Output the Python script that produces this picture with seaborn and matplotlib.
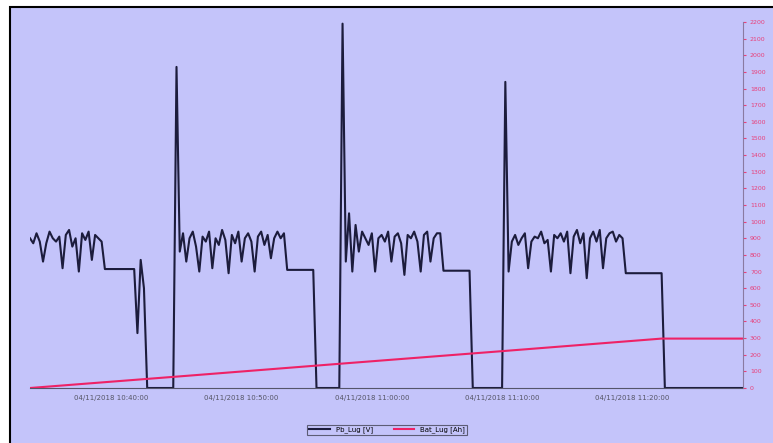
import numpy as np
import pandas as pd
import matplotlib
matplotlib.use("Agg")
import matplotlib.pyplot as plt
import matplotlib.dates as mdates
from matplotlib.patches import Rectangle
import seaborn as sns

# ------------------------------------------------------------
# data
# ------------------------------------------------------------
start_time = "2018-11-04 10:33:45"
sample_step = "15s"

cycle1_noise = [900, 870, 930, 880, 760, 870, 940, 900, 880, 910, 720, 920,
                950, 850, 900, 700, 930, 890, 940, 770, 920, 900, 880]
cycle1_rest = [715, 715, 715, 715, 715, 715, 715, 715, 715, 715]
cycle1_dip = [330, 770, 600]
off1 = [0, 0, 0, 0, 0, 0, 0, 0, 0]
spike1 = [1930]
cycle2_noise = [820, 930, 760, 900, 940, 850, 700, 910, 880, 940, 720, 900,
                860, 950, 890, 690, 920, 870, 940, 760, 900, 930, 880, 700,
                910, 940, 860, 920, 780, 900, 940, 900, 930]
cycle2_rest = [710, 710, 710, 710, 710, 710, 710, 710, 710]
off2 = [0, 0, 0, 0, 0, 0, 0, 0]
spike2 = [2190]
cycle3_noise = [760, 1050, 700, 980, 820, 940, 900, 860, 930, 700, 900, 920,
                880, 940, 760, 910, 930, 870, 680, 920, 900, 940, 880, 700,
                920, 940, 760, 900, 930, 930]
cycle3_rest = [705, 705, 705, 705, 705, 705, 705, 705, 705]
off3 = [0, 0, 0, 0, 0, 0, 0, 0, 0, 0]
spike3 = [1840]
cycle4_noise = [700, 880, 920, 860, 900, 930, 720, 880, 910, 900, 940, 870,
                890, 700, 920, 900, 930, 880, 940, 690, 910, 950, 870, 930,
                660, 900, 940, 880, 950, 720, 900, 930, 940, 880, 920, 900]
cycle4_rest = [690, 690, 690, 690, 690, 690, 690, 690, 690, 690, 690, 690]
off4 = [0, 0, 0, 0, 0, 0, 0, 0, 0, 0, 0, 0, 0, 0, 0, 0, 0, 0, 0, 0, 0, 0, 0, 0, 0]

pb_values = (cycle1_noise + cycle1_rest + cycle1_dip + off1 + spike1 +
             cycle2_noise + cycle2_rest + off2 + spike2 +
             cycle3_noise + cycle3_rest + off3 + spike3 +
             cycle4_noise + cycle4_rest + off4)

bat_times = ["2018-11-04 10:33:45", "2018-11-04 10:45:45", "2018-11-04 10:57:45",
             "2018-11-04 11:09:45", "2018-11-04 11:22:15", "2018-11-04 11:28:30"]
bat_values = [0, 73, 147, 220, 297, 297]

right_ticks = list(range(0, 2300, 100))

pb_label = "Pb_Lug [V]"
bat_label = "Bat_Lug [Ah]"

pb_df = pd.DataFrame({
    "time": pd.date_range(start_time, periods=len(pb_values), freq=sample_step),
    "value": pb_values,
})
bat_df = pd.DataFrame({"time": pd.to_datetime(bat_times), "value": bat_values})

# ------------------------------------------------------------
# plot
# ------------------------------------------------------------
bg = "#c4c4fa"
W, H = 773, 443
fig = plt.figure(figsize=(W / 100, H / 100), dpi=100)
fig.patch.set_facecolor("white")
fig.patches.append(Rectangle((10 / W, -0.01), 1.02, 1 - 7 / H + 0.01,
                             transform=fig.transFigure, facecolor=bg,
                             edgecolor="black", linewidth=1.5, zorder=-10))

ax = fig.add_axes([30 / W, 1 - 388 / H, (743 - 30) / W, (388 - 22) / H])
ax.set_facecolor("none")
ax2 = ax.twinx()
ax2.set_facecolor("none")

sns.lineplot(data=pb_df, x="time", y="value", ax=ax, color="#1c1c3c",
             linewidth=1.5, label=pb_label, legend=False)
sns.lineplot(data=bat_df, x="time", y="value", ax=ax2, color="#ee2266",
             linewidth=1.5, label=bat_label, legend=False)

for a in (ax, ax2):
    a.set_ylim(0, 2200)
    a.set_xlim(pb_df["time"].iloc[0], pb_df["time"].iloc[-1])
    a.set_xlabel("")
    a.set_ylabel("")
    a.spines["top"].set_visible(False)
    a.spines["left"].set_visible(False)

ax.set_yticks([])
ax.spines["right"].set_visible(False)
ax.spines["bottom"].set_color("#55556a")

ax2.spines["bottom"].set_visible(False)
ax2.spines["right"].set_color("#8a7aa0")
ax2.set_yticks(right_ticks)
ax2.tick_params(axis="y", labelsize=4.5, colors="#e8407a", length=2, pad=3)
ax2.set_ylim(0, 2200)

ax.xaxis.set_major_locator(mdates.MinuteLocator(byminute=[0, 10, 20, 30, 40, 50]))
ax.xaxis.set_major_formatter(mdates.DateFormatter("%d/%m/%Y %H:%M:%S"))
ax.tick_params(axis="x", labelsize=5, colors="#555566", length=0, pad=5)

h1, l1 = ax.get_legend_handles_labels()
h2, l2 = ax2.get_legend_handles_labels()
leg = fig.legend(h1 + h2, l1 + l2, loc="center", bbox_to_anchor=(387 / W, 1 - 430 / H),
                 ncol=2, fontsize=5, frameon=True, fancybox=False,
                 handlelength=3, columnspacing=3, borderpad=0.3)
leg.get_frame().set_facecolor(bg)
leg.get_frame().set_edgecolor("#444455")
leg.get_frame().set_linewidth(0.8)

fig.savefig("out.png", dpi=100, facecolor=fig.get_facecolor())
